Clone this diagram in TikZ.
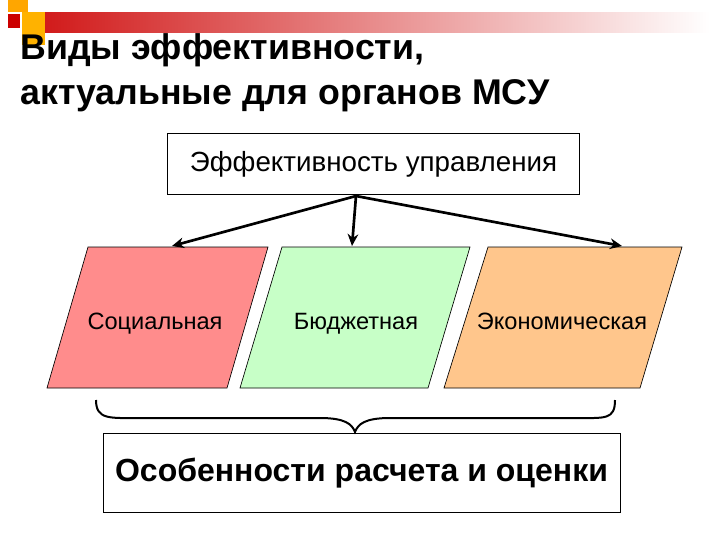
\documentclass[tikz,border=0pt]{standalone}
\usepackage{fontspec}
\setmainfont{Liberation Sans}
\usetikzlibrary{arrows.meta}
\begin{document}
\begin{tikzpicture}[x=0.75pt,y=-0.75pt,
  para/.style={draw=black,line width=0.5pt},
  lbl/.style={font=\fontsize{17.7}{21}\selectfont,anchor=base},
  arr/.style={line width=2pt,-{Stealth[length=9pt,width=8pt]}}]
\useasboundingbox (0,0) rectangle (720,540);
\fill[white] (0,0) rectangle (720,540);
% decoration
\fill[left color=red!80!black!90, right color=white] (40,12) rectangle (710,32);
\fill[orange!70!yellow] (8,0) rectangle (28,12);
\fill[orange!60!yellow] (22,12) rectangle (45,45);
\fill[red!80!black] (8,14) rectangle (20,28);
% title
\node[anchor=north west,align=left,font=\bfseries\fontsize{26.8}{34}\selectfont,inner sep=0] (title) at (20,33) {Виды эффективности,\\актуальные для органов МСУ};
% top box
\node[draw,line width=0.5pt,minimum width=309pt,minimum height=46pt,font=\fontsize{20.8}{25}\selectfont] (top) at (373.5,164) {Эффективность управления};
% parallelograms
\draw[para,fill=red!45] (88,247) -- (268,247) -- (227,388) -- (47,388) -- cycle;
\draw[para,fill=green!22] (282,247) -- (470,247) -- (428,388) -- (240,388) -- cycle;
\draw[para,fill=orange!45] (488,247) -- (682,247) -- (640,388) -- (444,388) -- cycle;
\node[lbl] (s) at (155,329) {Социальная};
\node[lbl] (b) at (356,329) {Бюджетная};
\node[lbl] (e) at (562,329) {Экономическая};
\coordinate (o) at (356,196);
\coordinate (s1) at (172,246);
\coordinate (b1) at (352,246);
\coordinate (e1) at (622,246);
\draw[arr] (o) -- (s1);
\draw[arr] (o) -- (b1);
\draw[arr] (o) -- (e1);
% brace
\draw[line width=1.5pt] (96,400) .. controls (96,420) and (110,418) .. (140,418) -- (320,418) .. controls (345,418) and (352,424) .. (355,432)
  .. controls (358,424) and (365,418) .. (390,418) -- (575,418) .. controls (605,418) and (615,420) .. (615,400);
\node[draw,line width=0.5pt,minimum width=388pt,minimum height=59pt,font=\bfseries\fontsize{24}{29}\selectfont] (bot) at (361.5,473) {Особенности расчета и оценки};
\end{tikzpicture}
\end{document}
